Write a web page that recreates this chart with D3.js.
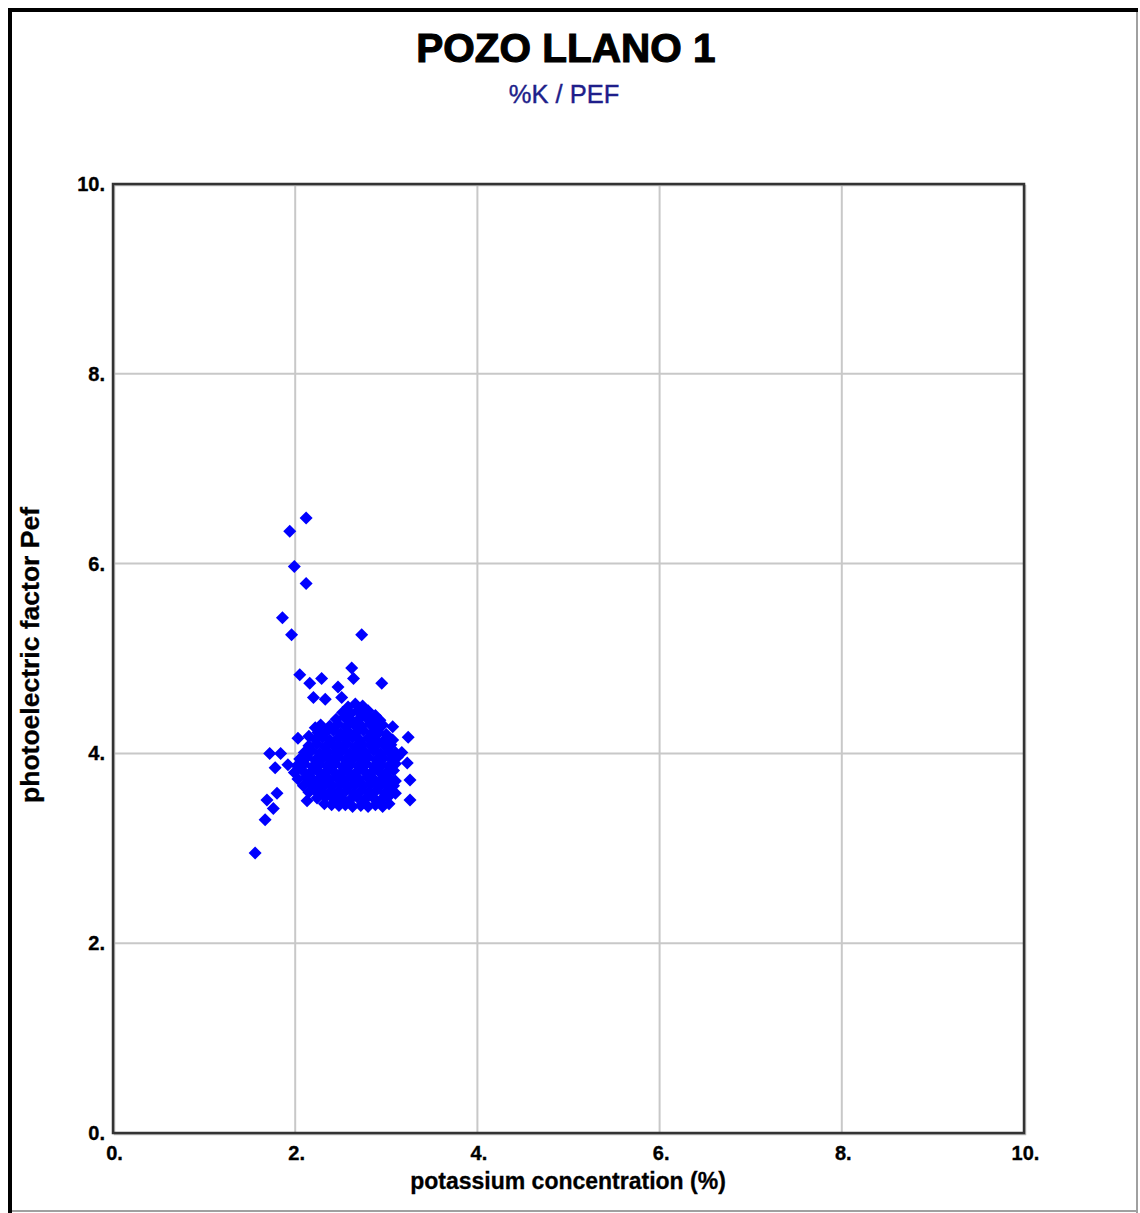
<!DOCTYPE html>
<html>
<head>
<meta charset="utf-8">
<script src="https://cdn.jsdelivr.net/npm/d3@7"></script>
<style>
  html, body { margin: 0; padding: 0; background: #fff; }
  svg { display: block; }
</style>
</head>
<body>
<svg id="chart" width="1140" height="1213"></svg>
<script>
const chartTitle = "POZO LLANO 1";
const chartSubtitle = "%K / PEF";
const xAxisTitle = "potassium concentration (%)";
const yAxisTitle = "photoelectric factor Pef";
const xTicks = [0, 2, 4, 6, 8, 10];
const yTicks = [0, 2, 4, 6, 8, 10];
const xTickLabels = ["0.", "2.", "4.", "6.", "8.", "10."];
const yTickLabels = ["0.", "2.", "4.", "6.", "8.", "10."];

// [potassium %, Pef]
const outlierSamples = [
  [2.12,6.48],[1.94,6.34],[1.99,5.97],[2.12,5.79],[1.86,5.43],[1.96,5.25],[2.73,5.25],
  [2.05,4.83],[2.62,4.90],[2.64,4.79],[2.16,4.74],[2.29,4.79],[2.20,4.59],[2.33,4.57],
  [2.95,4.74],[2.47,4.70],[2.51,4.59],[2.03,4.16],[2.22,4.27],
  [1.72,4.00],[1.84,4.00],[1.78,3.85],[1.92,3.88],[1.80,3.58],[1.69,3.51],[1.76,3.42],
  [1.67,3.30],[1.56,2.95],[2.13,3.50],
  [3.07,4.28],[3.24,4.17],[3.07,4.14],[3.17,4.01],[3.23,3.90],[3.26,3.72],[3.26,3.51]
];
const clusterSamples = [
  [2.58,4.49],[2.66,4.52],[2.74,4.50],[2.70,4.46],[2.80,4.45],
  [2.52,4.43],[2.61,4.42],[2.69,4.44],[2.78,4.41],[2.88,4.40],
  [2.45,4.36],[2.54,4.38],[2.62,4.35],[2.71,4.37],[2.80,4.36],[2.86,4.34],[2.93,4.35],
  [2.28,4.30],[2.38,4.29],[2.47,4.31],[2.56,4.28],[2.65,4.30],[2.73,4.29],[2.82,4.31],[2.90,4.27],[2.96,4.30],
  [2.25,4.22],[2.33,4.22],[2.42,4.24],[2.50,4.21],[2.58,4.23],[2.67,4.22],[2.75,4.24],[2.84,4.21],[2.92,4.22],[3.00,4.20],
  [2.15,4.18],[2.22,4.15],[2.30,4.17],[2.38,4.14],[2.47,4.16],[2.55,4.15],[2.63,4.17],[2.71,4.14],[2.80,4.16],[2.88,4.15],[2.97,4.13],
  [2.15,4.08],[2.24,4.10],[2.33,4.07],[2.41,4.09],[2.49,4.08],[2.57,4.10],[2.66,4.07],[2.74,4.09],[2.83,4.08],[2.91,4.10],[3.00,4.07],[3.05,4.09],
  [2.10,4.01],[2.18,4.03],[2.27,4.00],[2.35,4.02],[2.44,4.01],[2.52,4.03],[2.60,4.00],[2.69,4.02],[2.77,4.01],[2.86,4.03],[2.94,4.00],[3.03,4.02],[3.10,4.01],
  [2.05,3.94],[2.13,3.96],[2.22,3.93],[2.30,3.95],[2.38,3.94],[2.47,3.96],[2.55,3.93],[2.64,3.95],[2.72,3.94],[2.80,3.96],[2.89,3.93],[2.97,3.95],[3.06,3.94],[3.12,3.96],
  [2.02,3.87],[2.10,3.89],[2.19,3.86],[2.27,3.88],[2.35,3.87],[2.44,3.89],[2.52,3.86],[2.61,3.88],[2.69,3.87],[2.78,3.89],[2.86,3.86],[2.95,3.88],[3.03,3.87],[3.10,3.89],
  [1.99,3.80],[2.08,3.82],[2.16,3.79],[2.25,3.81],[2.33,3.80],[2.41,3.82],[2.50,3.79],[2.58,3.81],[2.67,3.80],[2.75,3.82],[2.83,3.79],[2.92,3.81],[3.00,3.80],[3.08,3.82],
  [2.03,3.73],[2.12,3.75],[2.20,3.72],[2.28,3.74],[2.37,3.73],[2.45,3.75],[2.54,3.72],[2.62,3.74],[2.70,3.73],[2.79,3.75],[2.87,3.72],[2.96,3.74],[3.04,3.73],[3.10,3.71],
  [2.09,3.66],[2.17,3.68],[2.25,3.65],[2.33,3.67],[2.41,3.66],[2.50,3.68],[2.58,3.65],[2.66,3.67],[2.75,3.66],[2.83,3.68],[2.92,3.65],[3.00,3.67],[3.08,3.66],
  [2.15,3.59],[2.22,3.61],[2.30,3.58],[2.39,3.60],[2.47,3.59],[2.56,3.61],[2.64,3.58],[2.72,3.60],[2.81,3.59],[2.89,3.61],[2.98,3.58],[3.05,3.60],[3.10,3.58],
  [2.24,3.53],[2.33,3.54],[2.42,3.52],[2.51,3.53],[2.60,3.51],[2.68,3.54],[2.77,3.52],[2.86,3.53],[2.94,3.51],[3.02,3.54],
  [2.32,3.47],[2.40,3.46],[2.48,3.45],[2.55,3.46],[2.63,3.44],[2.72,3.45],[2.80,3.44],[2.88,3.46],[2.96,3.44],[3.03,3.47]
];

const svg = d3.select("#chart");
const W = 1140, H = 1213;
const font = "'Liberation Sans', Arial, sans-serif";

// window frame (3D inset look)
svg.append("line").attr("x1", 10).attr("y1", 8).attr("x2", 10).attr("y2", H).attr("stroke", "#000").attr("stroke-width", 4);
svg.append("line").attr("x1", 8).attr("y1", 10).attr("x2", W - 2).attr("y2", 10).attr("stroke", "#000").attr("stroke-width", 4);
svg.append("line").attr("x1", W - 3).attr("y1", 12).attr("x2", W - 3).attr("y2", H).attr("stroke", "#a0a0a0").attr("stroke-width", 2);
svg.append("line").attr("x1", 12).attr("y1", H - 2).attr("x2", W - 2).attr("y2", H - 2).attr("stroke", "#a0a0a0").attr("stroke-width", 2);

const x = d3.scaleLinear().domain([0, 10]).range([113, 1024]);
const y = d3.scaleLinear().domain([0, 10]).range([1133, 184]);

// titles
svg.append("text").attr("x", 566).attr("y", 62).attr("text-anchor", "middle")
  .attr("font-family", font).attr("font-weight", "bold").attr("font-size", 40.5).attr("fill", "#000")
  .attr("stroke", "#000").attr("stroke-width", 1.1)
  .text(chartTitle);
svg.append("text").attr("x", 564).attr("y", 103).attr("text-anchor", "middle")
  .attr("font-family", font).attr("font-size", 25.5).attr("fill", "#1e1e8a")
  .attr("stroke", "#1e1e8a").attr("stroke-width", 0.4)
  .text(chartSubtitle);

// grid
const grid = svg.append("g");
grid.selectAll(".gx").data(xTicks.slice(1, -1)).join("line")
  .attr("x1", d => x(d)).attr("x2", d => x(d)).attr("y1", y(10)).attr("y2", y(0))
  .attr("stroke", "#c8c8c8").attr("stroke-width", 2);
grid.selectAll(".gy").data(yTicks.slice(1, -1)).join("line")
  .attr("y1", d => y(d)).attr("y2", d => y(d)).attr("x1", x(0)).attr("x2", x(10))
  .attr("stroke", "#c8c8c8").attr("stroke-width", 2);

// axes (labels only, via d3 axis)
const xAxis = d3.axisBottom(x).tickValues(xTicks).tickSize(0).tickPadding(0)
  .tickFormat((d, i) => xTickLabels[i]);
const yAxis = d3.axisLeft(y).tickValues(yTicks).tickSize(0).tickPadding(0)
  .tickFormat((d, i) => yTickLabels[i]);

const gx = svg.append("g").attr("transform", `translate(0,${y(0) + 13})`).call(xAxis);
gx.select(".domain").remove();
gx.selectAll("text").attr("font-family", font).attr("font-weight", "bold").attr("font-size", 20)
  .attr("fill", "#000").attr("stroke", "#000").attr("stroke-width", 0.35)
  .attr("dy", "0.71em").attr("dx", 1);

const gy = svg.append("g").attr("transform", `translate(${x(0) - 8},0)`).call(yAxis);
gy.select(".domain").remove();
gy.selectAll("text").attr("font-family", font).attr("font-weight", "bold").attr("font-size", 20)
  .attr("fill", "#000").attr("stroke", "#000").attr("stroke-width", 0.35)
  .attr("dy", "0.32em");

// points
const allSamples = clusterSamples.concat(outlierSamples);
const diamond = "M0,-6.5L6.5,0L0,6.5L-6.5,0Z";
svg.append("g").selectAll("path").data(allSamples).join("path")
  .attr("d", diamond)
  .attr("transform", d => `translate(${x(d[0])},${y(d[1])})`)
  .attr("fill", "#0000ff");

// plot frame
svg.append("rect").attr("x", x(0) + 1.5).attr("y", y(10) + 1.5)
  .attr("width", x(10) - x(0)).attr("height", y(0) - y(10))
  .attr("fill", "none").attr("stroke", "#bbb").attr("stroke-width", 1.5);
svg.append("rect").attr("x", x(0)).attr("y", y(10))
  .attr("width", x(10) - x(0)).attr("height", y(0) - y(10))
  .attr("fill", "none").attr("stroke", "#333").attr("stroke-width", 2.5);

// axis titles
svg.append("text").attr("x", 568).attr("y", 1189).attr("text-anchor", "middle")
  .attr("font-family", font).attr("font-weight", "bold").attr("font-size", 23).attr("fill", "#000")
  .attr("stroke", "#000").attr("stroke-width", 0.3)
  .text(xAxisTitle);
svg.append("text").attr("transform", "translate(39,655) rotate(-90)").attr("text-anchor", "middle")
  .attr("font-family", font).attr("font-weight", "bold").attr("font-size", 26.5).attr("fill", "#000")
  .attr("stroke", "#000").attr("stroke-width", 0.3)
  .text(yAxisTitle);
</script>
</body>
</html>
